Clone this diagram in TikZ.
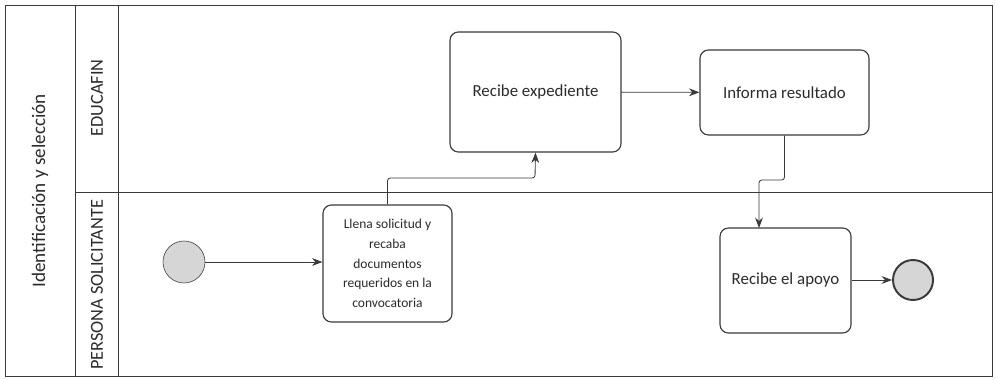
\documentclass[tikz,border=0pt]{standalone}
\usepackage{fontspec}
\setmainfont{Carlito}
\usepackage{tikz}
\usetikzlibrary{arrows.meta, positioning, calc}
\definecolor{linegray}{HTML}{3A3A3A}
\definecolor{eventfill}{HTML}{D6D6D6}
\definecolor{textgray}{HTML}{2B2B2B}

\begin{document}
\begin{tikzpicture}[
  x=0.025cm, y=-0.025cm,
  lane/.style={draw=linegray, thin},
  task/.style={rectangle, rounded corners=6pt, draw=linegray, thick,
               fill=white, align=center, inner sep=2pt,
               font=\fontsize{12}{14}\selectfont\color{textgray}},
  event/.style={circle, draw=linegray, fill=eventfill, minimum size=1.05cm, inner sep=0pt},
  endevent/.style={event, line width=1.4pt, minimum size=1.0cm},
  arrow/.style={-{Stealth[length=2.6mm]}, semithick, color=linegray, rounded corners=2pt},
  lanelabel/.style={rotate=90, font=\fontsize{13}{15}\selectfont\color{textgray}}
]
  \useasboundingbox (0,0) rectangle (999,380);
  % pool and lanes
  \draw[lane] (5,5) rectangle (992,376);
  \draw[lane] (75,5) -- (75,376);
  \draw[lane] (118,5) -- (118,376);
  \draw[lane] (75,192) -- (992,192);
  \node[lanelabel, font=\fontsize{13.6}{16}\selectfont\color{textgray}] (pool) at (40,191) {Identificación y selección};
  \node[lanelabel] (edu) at (97,98) {EDUCAFIN};
  \node[lanelabel] (sol) at (97,285) {PERSONA SOLICITANTE};

  % flow
  \node[event] (start) at (184,262) {};
  \node[task, minimum width=3.225cm, minimum height=2.925cm,
        font=\fontsize{9.6}{14}\selectfont\color{textgray}] (llena) at (387.5,263.5)
    {Llena solicitud y\\recaba\\documentos\\requeridos en la\\convocatoria};
  \node[task, minimum width=4.275cm, minimum height=3.0cm] (recibe) at (535.5,92) {Recibe expediente};
  \node[task, minimum width=4.225cm, minimum height=2.125cm] (informa) at (784.5,92.5) {Informa resultado};
  \node[task, minimum width=3.275cm, minimum height=2.625cm] (apoyo) at (785.5,280.5) {Recibe el apoyo};
  \node[endevent] (fin) at (913,280) {};

  \draw[arrow] (start) -- (start -| llena.west);
  \draw[arrow] (llena.north) |- (535,178) -- (recibe.south);
  \draw[arrow] (recibe) -- (informa);
  \draw[arrow] (informa.south) |- (759,180) -- (759,228);
  \draw[arrow] (apoyo.east |- fin) -- (fin);
\end{tikzpicture}
\end{document}
